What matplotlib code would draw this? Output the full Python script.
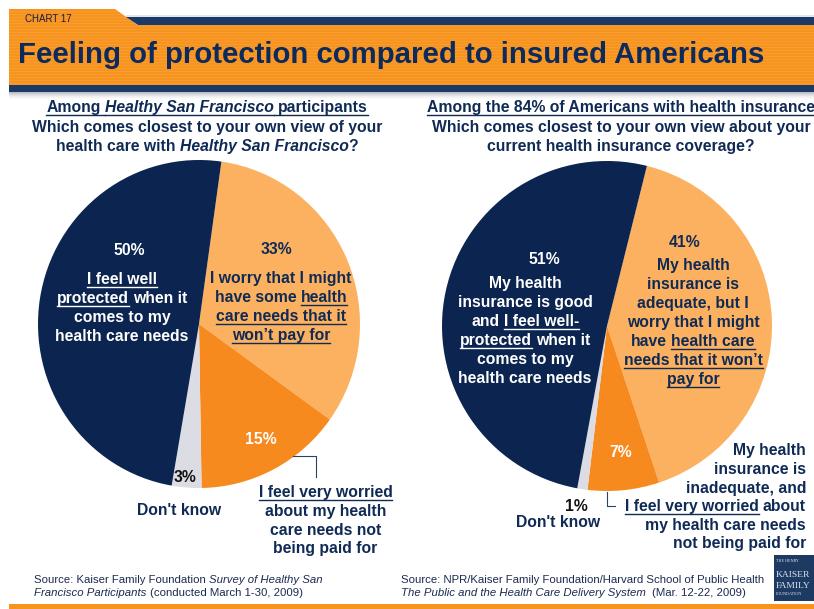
import matplotlib
matplotlib.use('Agg')
import matplotlib.pyplot as plt
from matplotlib.font_manager import FontProperties
from matplotlib.transforms import Affine2D
from matplotlib.patches import Polygon, Rectangle
from matplotlib.lines import Line2D

W, H = 814, 609
DPI = 100

# ---------------- data ----------------
left_categories = ['Worry some needs not paid for', 'Very worried', "Don't know", 'Feel well protected']
left_values = [33, 15, 3, 50]
right_categories = ['Adequate, but worry', 'Inadequate, very worried', "Don't know", 'Good, feel well-protected']
right_values = [41, 7, 1, 51]
left_pct_labels = ['33%', '15%', '3%', '50%']
right_pct_labels = ['41%', '7%', '1%', '51%']
slice_colors = ['#FBB160', '#F68A1F', '#DCDCE4', '#0B2450']

title = 'Feeling of protection compared to insured Americans'
chart_no = 'CHART 17'

TNAVY = '#0F2A55'
HDR_OR = '#F7941E'
HDR_NAVY = '#1B3A68'
FAM = 'Liberation Sans'

fig = plt.figure(figsize=(W / DPI, H / DPI), dpi=DPI)
fig.patch.set_facecolor('white')
PIX = Affine2D().scale(1, -1).translate(0, H)
R = fig.canvas.get_renderer()


def fp(size, bold=True, italic=False, family=FAM):
    return FontProperties(family=family, size=size,
                          weight='bold' if bold else 'normal',
                          style='italic' if italic else 'normal')


def ink_w(s, prop):
    if not s:
        return 0.0
    w, h, d = R.get_text_width_height_descent(s, prop, ismath=False)
    return w


def space_w(prop):
    return ink_w('a a', prop) - ink_w('aa', prop)


def draw_line(x, y, segs, size=11.3, color=TNAVY, align='center', bold=True):
    if isinstance(segs, str):
        segs = [(segs, '')]
    items = []
    total = 0.0
    for seg in segs:
        t, fl = (seg, '') if isinstance(seg, str) else seg
        prop = fp(size, bold=bold and 'r' not in fl, italic='i' in fl)
        sw = space_w(prop)
        lead = len(t) - len(t.lstrip(' '))
        trail = len(t) - len(t.rstrip(' '))
        core = t.strip(' ')
        w = ink_w(core, prop)
        items.append((core, prop, total, total + lead * sw, w,
                      total + lead * sw + w + trail * sw, 'u' in fl))
        total += lead * sw + w + trail * sw
    if align == 'center':
        x0 = x - total / 2
    elif align == 'right':
        x0 = x - total
    else:
        x0 = x
    for core, prop, s0, off, w, s1, u in items:
        fig.text(x0 + off, y, core, fontproperties=prop, color=color,
                 transform=PIX, ha='left', va='baseline')
        if u:
            fig.add_artist(Line2D([x0 + s0, x0 + s1], [y + 2.8, y + 2.8],
                                  transform=PIX, color=color, lw=1.0))


def block(x, baselines, lines, **kw):
    for yb, ln in zip(baselines, lines):
        draw_line(x, yb, ln, **kw)


def rect(x0, y0, x1, y1, color, **kw):
    fig.add_artist(Rectangle((x0, y0), x1 - x0, y1 - y0, transform=PIX,
                             facecolor=color, edgecolor='none', **kw))


# ---------------- header ----------------
fig.add_artist(Polygon([(9, 9), (115, 9), (137.6, 25), (9, 25)], closed=True,
                       transform=PIX, facecolor=HDR_OR, edgecolor='none'))
rect(9, 25, W, 85, HDR_OR)
fig.add_artist(Polygon([(126, 17), (W, 17), (W, 25), (137.6, 25)], closed=True,
                       transform=PIX, facecolor=HDR_NAVY, edgecolor='none'))
rect(126, 15, W, 17, '#E4E6EA')
# subtle stripes
for yy in range(11, 85, 3):
    xr = W if yy >= 25 else 115 + (yy - 9) * (22.6 / 16)
    rect(9, yy, xr, yy + 1, '#FAAA4E', alpha=0.4)
rect(9, 85, W, 92, HDR_NAVY)
shades = ['#B9BDC4', '#C9CCD1', '#D7D9DD', '#E3E4E7', '#EDEEF0', '#F5F5F6', '#FAFAFB']
for i, c in enumerate(shades):
    rect(9, 92 + i, W, 93 + i, c)

fig.text(25, 22.5, chart_no, fontproperties=fp(7, bold=False), color='#1A1A40',
         transform=PIX, ha='left', va='baseline')
fig.text(18, 63.3, title, fontproperties=fp(21.2), color='#0D2A5C',
         transform=PIX, ha='left', va='baseline')

# ---------------- pies ----------------
def pie_axes(cx, cy, rx, ry, values, start):
    ax = fig.add_axes([(cx - rx) / W, (H - cy - ry) / H, 2 * rx / W, 2 * ry / H])
    ax.pie(values, colors=slice_colors, startangle=start, counterclock=False,
           radius=1, wedgeprops=dict(linewidth=0))
    ax.set_xlim(-1, 1)
    ax.set_ylim(-1, 1)
    ax.set_aspect('auto')
    ax.axis('off')
    return ax

pie_axes(199, 324, 161, 164, left_values, 82)
pie_axes(607, 326, 165, 165, right_values, 76)

# ---------------- headings ----------------
block(207, [112, 132, 151], [
    [("Among ", 'u'), ("Healthy San Francisco", 'ui'), (" participants", 'u')],
    "Which comes closest to your own view of your",
    [("health care with ", ''), ("Healthy San Francisco", 'i'), ("?", '')],
])
draw_line(427, 112, [("Among the 84% of Americans with health insurance", 'u')], align='left')
block(621, [132, 151], [
    "Which comes closest to your own view about your",
    "current health insurance coverage?",
])

# ---------------- left pie labels ----------------
draw_line(129, 255, left_pct_labels[3], color='white')
block(122, [284, 303, 322, 341], [
    [("I feel well", 'u')],
    [("protected", 'u'), (" when it", '')],
    "comes to my",
    "health care needs",
], color='white')
draw_line(276, 254, left_pct_labels[0])
block(281, [283, 302, 321, 340], [
    "I worry that I might",
    [("have some ", ''), ("health", 'u')],
    [("care needs that it", 'u')],
    [("won\u2019t pay for", 'u')],
])
draw_line(261, 444, left_pct_labels[1], color='white')
draw_line(185, 482, left_pct_labels[2], color='#111111')
draw_line(179, 515, left_categories[2])
block(325.5, [497, 516, 535, 553], [
    [("I feel very worried", 'u')],
    "about my health",
    "care needs not",
    "being paid for",
])
fig.add_artist(Line2D([293, 316, 316], [456, 456, 477], transform=PIX,
                      color='#2A4168', lw=0.8))

# ---------------- right pie labels ----------------
draw_line(544, 264, right_pct_labels[3], color='white')
block(525, [288, 307, 326, 345, 364, 383], [
    "My health",
    "insurance is good",
    [("and ", ''), ("I feel well-", 'u')],
    [("protected", 'u'), (" when it", '')],
    "comes to my",
    "health care needs",
], color='white')
draw_line(685, 247, right_pct_labels[0])
block(693, [270, 289, 308, 327, 346, 365, 384], [
    "My health",
    "insurance is",
    "adequate, but I",
    "worry that I might",
    [("have ", ''), ("health care", 'u')],
    [("needs that it won\u2019t", 'u')],
    [("pay for", 'u')],
])
draw_line(620.5, 457, right_pct_labels[1], color='white')
block(806, [455, 474, 493, 511, 530, 548], [
    "My health",
    "insurance is",
    "inadequate, and",
    [("I feel very worried", 'u'), (" about", '')],
    "my health care needs",
    "not being paid for",
], align='right')
draw_line(576, 511, right_pct_labels[2], color='#111111')
draw_line(558, 527, right_categories[2])
fig.add_artist(Line2D([607, 607, 615], [492, 506, 506], transform=PIX,
                      color='#2A4168', lw=0.8))

# ---------------- sources ----------------
SRC = '#1B2A50'
block(34, [583, 596], [
    [("Source: Kaiser Family Foundation ", 'r'), ("Survey of Healthy San", 'ri')],
    [("Francisco Participants", 'ri'), (" (conducted March 1-30, 2009)", 'r')],
], size=8.2, color=SRC, align='left', bold=False)
block(401, [583, 596], [
    [("Source: NPR/Kaiser Family Foundation/Harvard School of Public Health", 'r')],
    [("The Public and the Health Care Delivery System", 'ri'), ("  (Mar. 12-22, 2009)", 'r')],
], size=8.2, color=SRC, align='left', bold=False)

# bottom orange rule
rect(9, 604, W, 609, HDR_OR)

# logo
rect(774, 555, W, 601, '#1D3A63')
LOGO_C = '#DDE3EE'
fig.text(776, 562, 'THE HENRY', fontproperties=FontProperties(family='Liberation Serif', size=3),
         color=LOGO_C, transform=PIX, ha='left', va='baseline')
fig.text(775.5, 577, 'KAISER', fontproperties=FontProperties(family='Liberation Serif', size=6.8),
         color=LOGO_C, transform=PIX, ha='left', va='baseline')
fig.text(775.5, 588, 'FAMILY', fontproperties=FontProperties(family='Liberation Serif', size=6.8),
         color=LOGO_C, transform=PIX, ha='left', va='baseline')
fig.text(776, 595, 'FOUNDATION', fontproperties=FontProperties(family='Liberation Serif', size=3),
         color=LOGO_C, transform=PIX, ha='left', va='baseline')

fig.savefig('out.png', dpi=DPI, facecolor='white')
